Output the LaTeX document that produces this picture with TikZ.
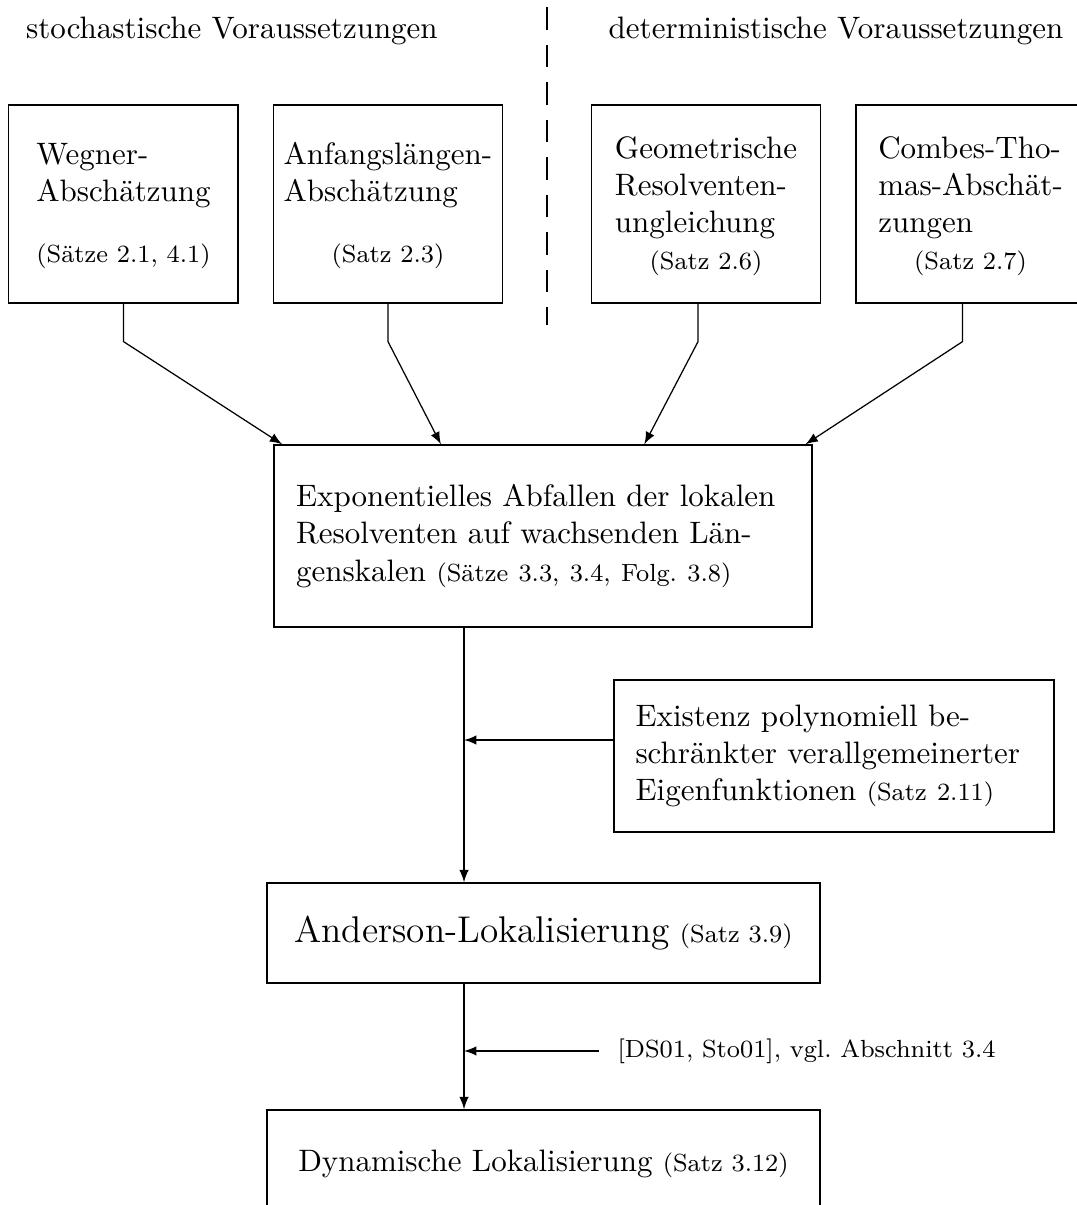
\documentclass[tikz,border=0pt]{standalone}
\usepackage{tikz}
\usetikzlibrary{positioning}
\usetikzlibrary{calc}
\usetikzlibrary{arrows}

\newcommand{\quelle}[1]{{\footnotesize #1}}
\newcommand{\zeilen}[1]{\begin{tabular}[b]{@{}l@{}}#1\end{tabular}}

\begin{document}
\frenchspacing
\begin{tikzpicture}
    [oben/.style={draw, minimum width=2.6cm, minimum height=2.245cm, inner sep=0pt, align=center},
    kasten/.style={draw, inner sep=0pt, align=left},
    breit/.style={draw, minimum width=6.27cm, inner sep=0pt},
    >=latex]
    \useasboundingbox (0,0) rectangle (12.213,-13.665);
    %\draw[step=1cm,gray,very thin] (0,-14) grid (13,0);
    \node[anchor=base] (stoch) at (2.63,-0.434) {stochastische Voraussetzungen};
    \node[anchor=base] (det) at (9.48,-0.434) {deterministische Voraussetzungen};
    \coordinate (t1) at (6.203,-0.083);
    \coordinate (t2) at (6.203,-3.686);
    \draw[dash pattern=on 7.3pt off 4.8pt] (t1) -- (t2);
    \node[oben] (W)  at (1.4,-2.313)   {\zeilen{Wegner-\\Abschätzung}\\[7.7pt]\quelle{(Sätze 2.1, 4.1)}};
    \node[oben] (AL) at (4.4,-2.313)   {\zeilen{Anfangslängen-\\Abschätzung}\\[7.7pt]\quelle{(Satz 2.3)}};
    \node[oben] (GR) at (8.006,-2.313) {\zeilen{Geometrische\\Resolventen-\\ungleichung}\\\quelle{(Satz 2.6)}};
    \node[oben] (CT) at (11.006,-2.313) {\zeilen{Combes-Tho-\\mas-Abschät-\\zungen}\\\quelle{(Satz 2.7)}};
    \node[kasten, text width=5.6cm, minimum width=6.1cm, minimum height=2.064cm] (EXP) at (6.157,-6.078)
        {Exponentielles Abfallen der lokalen\\Resolventen auf wachsenden Län-\\genskalen \quelle{(Sätze 3.3, 3.4, Folg. 3.8)}};
    \node[kasten, text width=4.5cm, minimum width=4.99cm, minimum height=1.724cm] (EF) at (9.457,-8.573)
        {Existenz polynomiell be-\\schränkter verallgemeinerter\\Eigenfunktionen \quelle{(Satz 2.11)}};
    \node[breit, minimum height=1.134cm] (AND) at (6.163,-10.58) {{\large Anderson-Lokalisierung} \quelle{(Satz 3.9)}};
    \node[breit, minimum height=1.234cm] (DYN) at (6.163,-13.204) {Dynamische Lokalisierung \quelle{(Satz 3.12)}};
    \coordinate (j1) at (5.262,-8.392);
    \coordinate (j2) at (5.262,-11.918);
    \node[anchor=west, inner xsep=5.8pt, inner ysep=0pt] (lit) at (6.793,-11.918) {\quelle{[DS01, Sto01], vgl. Abschnitt 3.4}};
    \draw[->] (W.south) -- ++(0,-0.431) -- ($(EXP.north west)+(0.1,0)$);
    \draw[->] (AL.south) -- ++(0,-0.431) -- ($(EXP.north west)+(1.9,0)$);
    \draw[->] ($(GR.south)+(-0.09,0)$) -- ++(0,-0.431) -- ($(EXP.north west)+(4.207,0)$);
    \draw[->] ($(CT.south)+(-0.09,0)$) -- ++(0,-0.431) -- ($(EXP.north east)+(-0.08,0)$);
    \draw[->] (EXP.south -| j1) -- (AND.north -| j1);
    \draw[->] (EF.west |- j1) -- (j1);
    \draw[->] (AND.south -| j2) -- (DYN.north -| j2);
    \draw[->] (lit.west) -- (j2);
\end{tikzpicture}
\end{document}
